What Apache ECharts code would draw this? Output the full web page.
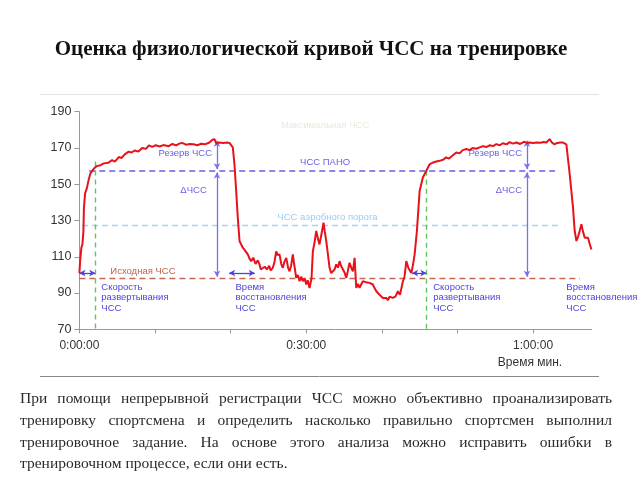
<!DOCTYPE html>
<html><head><meta charset="utf-8">
<script src="https://cdn.jsdelivr.net/npm/echarts@6/dist/echarts.min.js"></script>
<style>
body{margin:0;background:#fff;}
#chart{position:absolute;left:0;top:0;width:640px;height:480px;}
.p{position:absolute;left:20px;width:592px;font-family:"Liberation Serif","DejaVu Serif",serif;font-size:15.5px;line-height:22px;color:#2b2b2b;}
.j{text-align:justify;text-align-last:justify;}
</style></head>
<body>
<div id="chart"></div>
<div class="p j" style="top:387px">При помощи непрерывной регистрации ЧСС можно объективно проанализировать</div>
<div class="p j" style="top:409px">тренировку спортсмена и определить насколько правильно спортсмен выполнил</div>
<div class="p j" style="top:431px">тренировочное задание. На основе этого анализа можно исправить ошибки в</div>
<div class="p" style="top:452px">тренировочном процессе, если они есть.</div>
<script>
// ---- data ----
const timeMin = [0,0.1,0.26,0.4,0.53,0.6,0.75,1.0,1.2,1.46,1.89,2.3,2.8,3.2,3.44,3.8,4.33,4.7,5.2,5.6,6.0,6.52,6.9,7.3,7.8,8.3,8.8,9.2,9.62,10.1,10.6,11.1,11.82,12.3,12.8,13.2,13.59,14.1,14.6,15.1,15.6,16.1,16.6,17.2,17.6,17.87,18.1,18.53,19.0,19.5,19.85,20.29,20.51,20.74,20.95,21.18,21.61,21.9,22.27,22.5,22.72,23.0,23.3,23.6,23.82,24.0,24.26,24.5,24.8,25.1,25.3,25.58,25.8,26.03,26.2,26.47,26.7,26.91,27.1,27.36,27.6,27.79,28.0,28.23,28.4,28.68,28.9,29.12,29.35,29.55,29.8,30.0,30.2,30.44,30.7,30.88,31.1,31.33,31.55,31.76,32.0,32.29,32.45,32.65,32.85,33.09,33.3,33.53,33.75,33.97,34.2,34.41,34.6,34.85,35.1,35.3,35.5,35.73,35.95,36.17,36.4,36.62,36.85,37.06,37.3,37.49,37.9,38.38,38.82,39.0,39.27,39.7,40.14,40.4,40.59,40.8,41.03,41.46,41.8,42.13,42.4,42.79,43.0,43.24,43.5,43.9,44.1,44.34,44.64,45.0,45.43,45.89,46.32,46.8,47.2,47.64,48.1,48.5,48.9,49.4,49.85,50.3,50.7,51.18,51.6,52.0,52.5,52.94,53.4,53.8,54.3,54.7,55.15,55.6,56.0,56.5,56.9,57.35,57.8,58.3,58.8,59.2,59.56,60.0,60.5,61.0,61.4,61.76,62.0,62.2,62.5,62.8,63.09,63.3,63.6,63.96,64.41,64.85,65.29,65.51,65.74,65.95,66.17,66.4,66.6,66.84,67.0,67.27,67.5,67.72];
const heartRate = [101,108,115,117,124,137,145,148,152,156,158.5,160,160.5,161.5,162,161.8,163.3,162.5,165,164.5,166.5,168,167.5,168.6,168,170,169.5,171.4,170.6,171.5,170.8,171.6,171,172.2,171.4,172.4,172.8,171.8,172.2,172,171.5,172.3,172,173,174.5,174.9,172.5,173,172.8,173,172.8,170.3,161,146,131.5,118.7,115,113.5,111.3,109,107.6,109.5,106,108,105.8,103,102,104.5,103,105,102.5,103.9,107,113,111,111.3,106,103.9,107,109.4,104,102,105,111.3,106,98.4,100,96.5,99,96.5,98,94.7,97,92.8,98,113,118,124.2,120,116.8,122,128.8,124,118.7,112,103.9,101,100.2,103,105.8,104,107.6,105,103.9,101,98.4,102,106.7,104,102,109.4,92.8,95,92.8,95,96.5,96,95.6,94.7,93,91,89,87.3,86.4,87.3,86,88,87.3,88,91,89,96.5,99,107.6,104,101,105,111.3,124.2,146.3,153.7,157.4,161,162,162.5,162.9,163.5,164.8,164.2,166,167.5,167,168.8,169.4,168.8,170,169.6,170.3,171,170.5,171.5,171,172.1,171.5,172.6,172,173.2,172.4,173,172.2,173.4,172.8,173,172.8,173,172.9,173.3,173,174,174.9,173,172,172.6,171.5,173,173,172,155.5,137,124.2,118.7,121,124.2,127.9,124,120.5,121.5,120.5,117,114];
const yTicks = [70,90,110,130,150,170,190];
const xTicks = [0,10,20,30,40,50,60];
const xLabelTicks = [0,30,60];
const xTickLabels = {0:'0:00:00',30:'0:30:00',60:'1:00:00'};
const maxHR = 178.2, panoHR = 157.4, aerobHR = 127.5, baseHR = 98.2;
const rampStarts = [2.1, 45.9];
const loadEnds = [19.8, 63.5];
const peakHR = 174;
const deltaArrowX = [18.2, 59.2];
const recoveryEnds = [23.2, 69.7];
const speedStarts = [0, 44.0];

const C_PURPLE = '#6a5ee6', C_BLUE = '#4a44dc', C_ARROW = '#7c70e8';
function seg(x1,y1,x2,y2,style,sym1,sym2){
  return [{coord:[x1,y1],symbol:sym1||'none',lineStyle:style},{coord:[x2,y2],symbol:sym2||'none'}];
}
const dashP = {color:C_PURPLE,type:[6,4],width:1.5};
const lines = [
  seg(1.7,maxHR,67.8,maxHR,{color:'#f1eee6',type:[6,3],width:1.2}),
  seg(1.3,panoHR,62.9,panoHR,dashP),
  seg(0.35,aerobHR,63.5,aerobHR,{color:'#a5d4f2',type:[6,4],width:1.3}),
  seg(0,baseHR,66.2,baseHR,{color:'#c8684f',type:[6,4],width:1.4}),
  seg(rampStarts[0],162.5,rampStarts[0],70,{color:'#5cc85c',type:[5,4],width:1.4}),
  seg(rampStarts[1],157.4,rampStarts[1],70,{color:'#5cc85c',type:[5,4],width:1.4}),
  seg(loadEnds[0],180.6,loadEnds[0],69,{color:'#5a52e0',type:[6,4],width:1.6}),
  seg(loadEnds[1],180.6,loadEnds[1],69,{color:'#5a52e0',type:[6,4],width:1.6})
];
const solidA = {color:C_ARROW,width:1.3,type:'solid'};
const solidB = {color:C_BLUE,width:1.3,type:'solid'};
for (let i=0;i<2;i++){
  const ax = deltaArrowX[i];
  lines.push(seg(ax,peakHR,ax,158.3,solidA,'arrow','arrow'));
  lines.push(seg(ax,156.5,ax,99,solidA,'arrow','arrow'));
}
lines.push(seg(speedStarts[0],101,rampStarts[0],101,solidB,'arrow','arrow'));
lines.push(seg(loadEnds[0],101,recoveryEnds[0],101,solidB,'arrow','arrow'));
lines.push(seg(speedStarts[1],101,rampStarts[1],101,solidB,'arrow','arrow'));
lines.push(seg(loadEnds[1]+0.9,104.2,recoveryEnds[1],104.2,solidB,'arrow','arrow'));

function txt(x,y,text,color,align,vAlign){
  return {coord:[x,y],symbolSize:0,label:{show:true,formatter:text,color:color,fontSize:9.5,
    fontFamily:'Liberation Sans, Arial, sans-serif',position:[0,0],align:align||'center',verticalAlign:vAlign||'middle',lineHeight:10.7}};
}
const texts = [
  txt(32.5,182.6,'Максимальная ЧСС','#ece7da'),
  txt(14.0,167.2,'Резерв ЧСС',C_PURPLE),
  txt(55.0,167.2,'Резерв ЧСС',C_PURPLE),
  txt(32.5,161.9,'ЧСС ПАНО',C_PURPLE),
  txt(32.8,131.7,'ЧСС аэробного порога','#99ccef'),
  txt(15.1,146.4,'ΔЧСС',C_PURPLE),
  txt(56.8,146.4,'ΔЧСС',C_PURPLE),
  txt(8.4,102,'Исходная ЧСС','#c0604a'),
  txt(2.9,96.2,'Скорость\nразвертывания\nЧСС',C_BLUE,'left','top'),
  txt(20.65,96.2,'Время\nвосстановления\nЧСС',C_BLUE,'left','top'),
  txt(46.8,96.2,'Скорость\nразвертывания\nЧСС',C_BLUE,'left','top'),
  txt(64.4,96.2,'Время\nвосстановления\nЧСС',C_BLUE,'left','top')
];

const chart = echarts.init(document.getElementById('chart'),null,{renderer:'canvas'});
chart.setOption({
  animation:false,
  backgroundColor:'#fff',
  grid:{left:79.4,right:48.3,top:111.7,bottom:150.7,containLabel:false},
  xAxis:{type:'value',min:0,max:67.76,
    axisLine:{lineStyle:{color:'#999',width:1}},
    axisTick:{customValues:xTicks,length:4,lineStyle:{color:'#999'}},
    axisLabel:{customValues:xLabelTicks,formatter:v=>xTickLabels[v]||'',fontSize:12,color:'#333',margin:10,fontFamily:'Liberation Sans, Arial, sans-serif'},
    splitLine:{show:false}},
  yAxis:{type:'value',min:70,max:190,
    axisLine:{show:true,lineStyle:{color:'#999',width:1}},
    axisTick:{show:true,customValues:yTicks,length:5,lineStyle:{color:'#999'}},
    axisLabel:{customValues:yTicks,fontSize:12.5,color:'#333',margin:8,fontFamily:'Liberation Sans, Arial, sans-serif'},
    splitLine:{show:false}},
  graphic:[
    {type:'text',style:{text:'Оценка физиологической кривой ЧСС на тренировке',x:311,y:50,align:'center',verticalAlign:'middle',font:'bold 21px "Liberation Serif", serif',fill:'#111'}},
    {type:'text',style:{text:'Время мин.',x:530,y:363,align:'center',verticalAlign:'middle',font:'12px "Liberation Sans", Arial, sans-serif',fill:'#333'}},
    {type:'line',shape:{x1:40,y1:94.5,x2:599,y2:94.5},style:{stroke:'#e2e2e2',lineWidth:1}},
    {type:'line',shape:{x1:40,y1:376.5,x2:599,y2:376.5},style:{stroke:'#888',lineWidth:1}}
  ],
  series:[{
    type:'line',clip:false,silent:true,
    data:timeMin.map((t,i)=>[t,heartRate[i]]),
    showSymbol:false,symbol:'none',
    lineStyle:{color:'#e8121a',width:2},
    z:5,
    markLine:{silent:true,symbol:['none','none'],symbolSize:[5,6],label:{show:false},animation:false,data:lines,z:3},
    markPoint:{silent:true,symbol:'circle',symbolSize:0,data:texts,animation:false}
  }]
});
</script>
</body></html>
